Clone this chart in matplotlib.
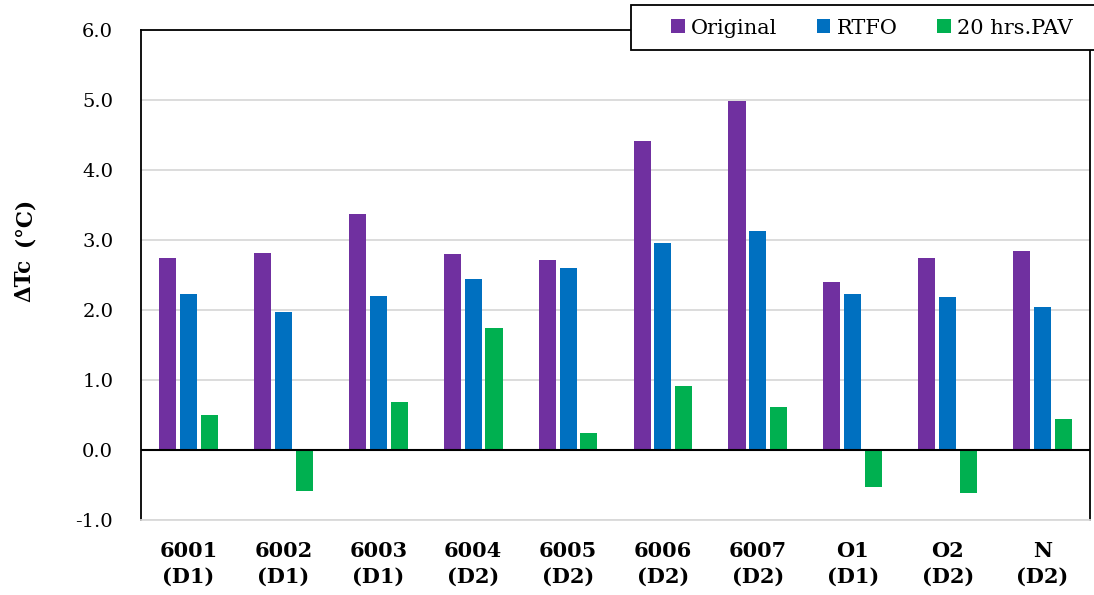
import matplotlib.pyplot as plt
from matplotlib.patches import Rectangle
import numpy as np

categories = ['6001\n(D1)', '6002\n(D1)', '6003\n(D1)', '6004\n(D2)', '6005\n(D2)',
              '6006\n(D2)', '6007\n(D2)', 'O1\n(D1)', 'O2\n(D2)', 'N\n(D2)']
original = [2.74, 2.81, 3.37, 2.80, 2.72, 4.42, 4.99, 2.40, 2.75, 2.85]
rtfo = [2.23, 1.97, 2.20, 2.45, 2.60, 2.96, 3.13, 2.23, 2.19, 2.04]
pav = [0.50, -0.59, 0.68, 1.75, 0.25, 0.92, 0.62, -0.53, -0.62, 0.44]

series = [('Original', original, '#7030A0'),
          ('RTFO', rtfo, '#0070C0'),
          ('20 hrs.PAV', pav, '#00B050')]

plt.rcParams['font.family'] = 'DejaVu Serif'

W, H = 1094, 595
fig = plt.figure(figsize=(W / 100, H / 100), dpi=100)
ax = fig.add_axes([141 / W, 75 / H, 949 / W, 490 / H])

x = np.arange(len(categories))
for i, (name, vals, col) in enumerate(series):
    ax.bar(x + (i - 1) * 0.22, vals, 0.18, color=col, label=name, zorder=3)

ax.set_xlim(-0.5, len(categories) - 0.5)
ax.set_ylim(-1.0, 6.0)
yt = np.arange(-1.0, 6.01, 1.0)
ax.set_yticks(yt)
ax.set_yticklabels(['%.1f' % v for v in yt], fontsize=14)
ax.set_xticks(x)
ax.set_xticklabels(categories, fontsize=15, fontweight='bold', linespacing=1.35)
ax.tick_params(axis='both', length=0)
ax.tick_params(axis='y', pad=20)
ax.tick_params(axis='x', pad=15)

ax.grid(axis='y', color='#d9d9d9', linewidth=1.3, zorder=0)
ax.axhline(0, color='black', linewidth=1.5, zorder=4)
for s in ['left', 'top', 'right']:
    ax.spines[s].set_color('black')
    ax.spines[s].set_linewidth(1.3)
ax.spines['bottom'].set_color('#d9d9d9')
ax.spines['bottom'].set_linewidth(1.3)

# y label: bold symbol, plain unit
fig.text(24 / W, 1 - 302 / H, 'ΔTc', rotation=90, ha='center', va='bottom',
         fontsize=15.5, fontweight='bold')
fig.text(24 / W, 1 - 198 / H, '(°C)', rotation=90, ha='center', va='top',
         fontsize=15.5, fontweight='bold')

# legend box sticking out past the right edge
fig.patches.append(Rectangle((631 / W, 1 - 50 / H), 500 / W, 45 / H,
                             transform=fig.transFigure, facecolor='white',
                             edgecolor='black', linewidth=1.3, zorder=9))
leg = fig.legend(loc='center left', bbox_to_anchor=(671 / W, 1 - 28 / H), ncol=3,
                 fontsize=15, frameon=False,
                 handlelength=0.65, handleheight=0.65, handletextpad=0.3,
                 columnspacing=1.9, borderpad=0, borderaxespad=0)
leg.set_zorder(10)

fig.savefig('out.png', dpi=100)
